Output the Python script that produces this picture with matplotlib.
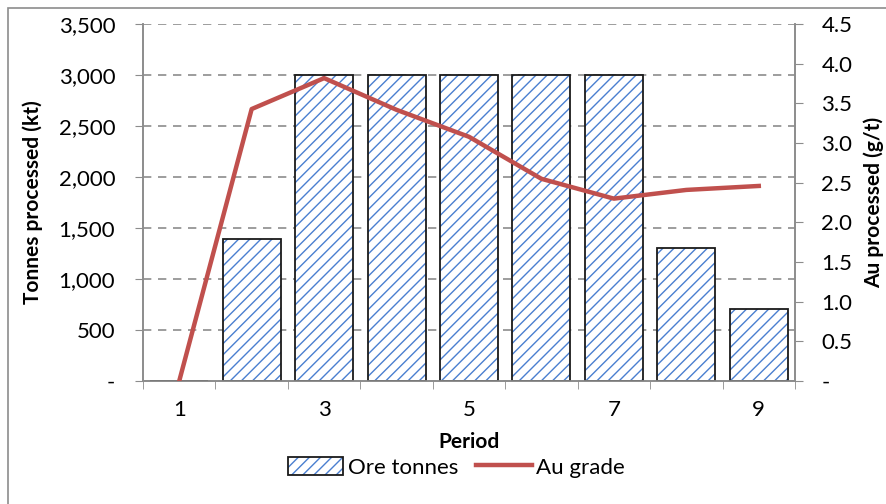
import matplotlib.pyplot as plt
import matplotlib.patches as mpatches
from matplotlib.lines import Line2D
from matplotlib.legend_handler import HandlerTuple
from matplotlib.ticker import FuncFormatter, MultipleLocator

plt.rcParams['font.family'] = ['Lato', 'DejaVu Sans']
plt.rcParams['hatch.linewidth'] = 1.0

periods = [1, 2, 3, 4, 5, 6, 7, 8, 9]
ore_tonnes = [0, 1390, 3000, 3000, 3000, 3000, 3000, 1300, 710]
au_grade = [0.0, 3.43, 3.82, 3.42, 3.08, 2.55, 2.30, 2.41, 2.46]
x_labels = ['1', '', '3', '', '5', '', '7', '', '9']

fig = plt.figure(figsize=(8.86, 5.04), dpi=100)
ax = fig.add_axes([0.1614, 0.244, 0.7359, 0.708])
ax2 = ax.twinx()

# outer chart border
fig.patches.append(mpatches.Rectangle((8 / 886, -0.1), 1.2, 1 - 8 / 504 + 0.1,
                                      transform=fig.transFigure, fill=False,
                                      edgecolor='#8c8c8c', linewidth=1.2))

blue = '#4a7fd0'
ax.bar(periods, ore_tonnes, width=0.8, color='white', edgecolor=blue,
       hatch='///', linewidth=0, zorder=2)
ax.bar(periods, ore_tonnes, width=0.8, fill=False, edgecolor='#1a1a1a',
       linewidth=1.3, zorder=3)

ax2.plot(periods, au_grade, color='#c0504d', linewidth=3.2, zorder=4)

ax.set_xlim(0.5, 9.5)
ax.set_ylim(0, 3500)
ax2.set_ylim(0, 4.5)

ax.yaxis.set_major_locator(MultipleLocator(500))
ax2.yaxis.set_major_locator(MultipleLocator(0.5))
ax.yaxis.set_major_formatter(FuncFormatter(lambda v, p: '-' if v == 0 else f'{v:,.0f}'))
ax2.yaxis.set_major_formatter(FuncFormatter(lambda v, p: '-' if v == 0 else f'{v:.1f}'))

ax.set_xticks(periods)
ax.set_xticklabels(x_labels)
ax.set_xticks([p - 0.5 for p in periods] + [9.5], minor=True)
ax.tick_params(axis='x', which='major', length=0, pad=14, labelsize=16)
ax.tick_params(axis='x', which='minor', length=6, color='#8c8c8c', direction='out')
ax.tick_params(axis='y', length=6, color='#8c8c8c', labelsize=16, pad=14)
ax2.tick_params(axis='y', length=6, color='#8c8c8c', labelsize=16, pad=13)

ax.grid(axis='y', linestyle=(0, (5, 4)), color='#8c8c8c', linewidth=1.2, zorder=0)
ax.set_axisbelow(True)

for a in (ax, ax2):
    a.spines['top'].set_visible(False)
    for s in ('left', 'right', 'bottom'):
        a.spines[s].set_color('#8c8c8c')
        a.spines[s].set_linewidth(1.2)

ax.set_xlabel('Period', fontsize=15, fontweight='bold', labelpad=8)
ax.set_ylabel('Tonnes processed (kt)', fontsize=15, fontweight='bold', labelpad=11)
ax2.set_ylabel('Au processed (g/t)', fontsize=15, fontweight='bold', labelpad=8)

hatch_patch = mpatches.Patch(facecolor='white', edgecolor=blue, hatch='///', linewidth=0)
frame_patch = mpatches.Patch(fill=False, edgecolor='#1a1a1a', linewidth=1.3)
au_line = Line2D([0], [0], color='#c0504d', linewidth=3.2)
fig.legend([(hatch_patch, frame_patch), au_line], ['Ore tonnes', 'Au grade'],
           handler_map={tuple: HandlerTuple(ndivide=1, pad=0)},
           loc='center', bbox_to_anchor=(0.515, 0.073), ncol=2, frameon=False,
           fontsize=16, handlelength=2.5, handleheight=0.9,
           columnspacing=0.8, handletextpad=0.2)

fig.savefig('out.png', dpi=100)
